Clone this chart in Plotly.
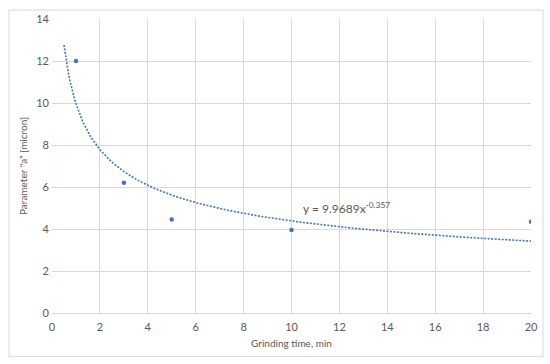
import numpy as np
import plotly.graph_objects as go

grind_time = [1, 3, 5, 10, 20]
param_a = [12.0, 6.2, 4.45, 3.95, 4.35]
coef_a = 9.9689
coef_b = -0.357
x_ticks = list(range(0, 21, 2))
y_ticks = list(range(0, 15, 2))

xt = np.linspace(0.5, 20, 300)
yt = coef_a * xt ** coef_b

blue = "#4472C4"
grid = "#D9D9D9"
txt = "#595959"

W, H = 550, 364
ml, mt, mr, mb = 52, 16, 19, 51

fig = go.Figure()
fig.add_trace(go.Scatter(x=xt, y=yt, mode="lines",
                         line=dict(color=blue, width=1.6, dash="2px,1.5px"),
                         hoverinfo="skip", showlegend=False))
fig.add_trace(go.Scatter(x=grind_time, y=param_a, mode="markers",
                         marker=dict(color=blue, size=4.5), showlegend=False))

fig.add_annotation(x=10.4, y=5.0, xanchor="left", yanchor="middle",
                   text=f"y = {coef_a}x<sup>{coef_b}</sup>", showarrow=False,
                   font=dict(size=12, color=txt, family="Lato"))

pw = W - ml - mr
ph = H - mt - mb
fig.add_shape(type="rect", xref="paper", yref="paper",
              x0=(9 - ml) / pw, x1=(543 - ml) / pw,
              y0=-(357 - (mt + ph)) / ph, y1=((mt + ph) - 7) / ph,
              line=dict(color="#D9D9D9", width=1), fillcolor="rgba(0,0,0,0)",
              layer="above")

fig.update_layout(
    width=W, height=H,
    margin=dict(l=ml, r=mr, t=mt, b=mb),
    paper_bgcolor="white", plot_bgcolor="white",
    font=dict(family="Lato", size=11, color=txt),
    xaxis=dict(range=[0, 20], tickvals=x_ticks, showgrid=True, gridcolor=grid,
               gridwidth=1, zeroline=False, showline=True, linecolor=grid,
               ticks="", ticklabelstandoff=4,
               title=dict(text="Grinding time, min", font=dict(size=10), standoff=7)),
    yaxis=dict(range=[0, 14], tickvals=y_ticks, showgrid=True, gridcolor=grid,
               gridwidth=1, zeroline=False, showline=False,
               ticks="", ticklabelstandoff=2,
               title=dict(text='Parameter "a" [micron]', font=dict(size=10), standoff=6)),
)
fig.write_html("out.html", config={"displayModeBar": False},
               post_script="document.body.style.margin='0';")
